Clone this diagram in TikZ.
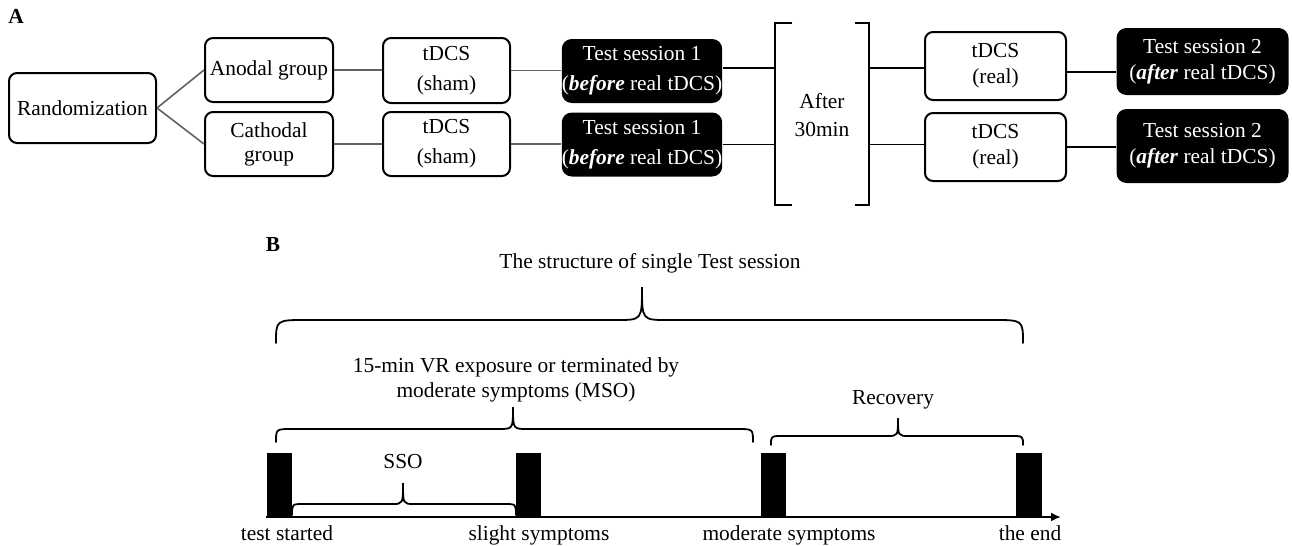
\documentclass[tikz,border=0pt]{standalone}
\usepackage{fontspec}
\setmainfont{Liberation Serif}
\usetikzlibrary{arrows.meta}

% curly brace: x-left, x-right, x-tip, y-ends, y-bar, y-tip, end radius, tip radius
\newcommand\curlybrace[8]{%
  \draw[bracepath] (#1,#4) .. controls (#1,#5) .. (#1+#7,#5) -- (#3-#8,#5)
    .. controls (#3,#5) .. (#3,#6) .. controls (#3,#5) .. (#3+#8,#5)
    -- (#2-#7,#5) .. controls (#2,#5) .. (#2,#4);}

\begin{document}
\begin{tikzpicture}[x=0.5pt,y=-0.5pt,
  txt/.style={font=\fontsize{10.7}{13}\selectfont, inner sep=0pt},
  every node/.style={txt},
  wbox/.style={draw, line width=1pt, rounded corners=4pt, align=center, fill=white},
  bbox/.style={fill=black, text=white, rounded corners=5pt, align=center},
  wide/.style={font=\fontsize{10.7}{15}\selectfont},
  tight/.style={font=\fontsize{10.7}{12}\selectfont},
  gline/.style={draw=black!62, line width=0.8pt},
  kline/.style={draw=black, line width=0.8pt},
  bracketpath/.style={line width=1pt},
  bracepath/.style={line width=0.9pt, line cap=round},
  barbox/.style={fill=black, minimum width=12.5pt, minimum height=32pt},
  label/.style={font=\fontsize{10.7}{13}\selectfont\bfseries},
  axislabel/.style={anchor=base},
]
\useasboundingbox (0,0) rectangle (1292,546);

% ---------------- Panel A: study design ----------------
\node[label] (lblA) at (16,16) {A};

\node[wbox, minimum width=73.5pt, minimum height=35pt] (rand) at (82.5,108) {Randomization};
\node[wbox, minimum width=64pt, minimum height=32pt] (ano) at (269,70) {Anodal group};
\node[wbox, tight, minimum width=64pt, minimum height=32pt] (cat) at (269,144) {Cathodal\\group};

\node[wbox, wide, minimum width=63.5pt, minimum height=32.5pt] (shA) at (446.5,70.5) {tDCS\\(sham)};
\node[wbox, wide, minimum width=63.5pt, minimum height=32pt] (shB) at (446.5,144) {tDCS\\(sham)};

\node[bbox, wide, minimum width=80pt, minimum height=32pt] (tsA) at (642,71) {Test session 1\\(\textbf{\textit{before}} real tDCS)};
\node[bbox, wide, minimum width=80pt, minimum height=32pt] (tsB) at (642,144.5) {Test session 1\\(\textbf{\textit{before}} real tDCS)};

% waiting interval between brackets
\node[font=\fontsize{10.7}{14}\selectfont, align=center] (wait) at (822,115) {After\\30min};
\coordinate (brL) at (775,114);
\coordinate (brR) at (869,114);
\draw[bracketpath] (792,23) -- (775,23) -- (775,205) -- (792,205);
\draw[bracketpath] (855,23) -- (869,23) -- (869,205) -- (855,205);

\node[wbox, minimum width=70.5pt, minimum height=34pt] (reA) at (995.5,66) {tDCS\\(real)};
\node[wbox, minimum width=70.5pt, minimum height=34pt] (reB) at (995.5,147) {tDCS\\(real)};

\node[bbox, minimum width=86pt, minimum height=33.5pt] (t2A) at (1202.5,61.5) {Test session 2\\(\textbf{\textit{after}} real tDCS)};
\node[bbox, minimum width=86pt, minimum height=37pt] (t2B) at (1202.5,146) {Test session 2\\(\textbf{\textit{after}} real tDCS)};

% connectors
\draw[gline] (rand.east) -- (ano.west);
\draw[gline] (rand.east) -- (cat.west);
\draw[gline] (ano.east) -- (ano.east -| shA.west);
\draw[gline] (cat.east) -- (cat.east -| shB.west);
\draw[gline] (shA.east) -- (shA.east -| tsA.west);
\draw[gline] (shB.east) -- (shB.east -| tsB.west);
\draw[kline] ([yshift=1.5pt]tsA.east) -- ([yshift=1.5pt]tsA.east -| brL);
\draw[kline] (tsB.east) -- (tsB.east -| brL);
\draw[kline] ([yshift=1.5pt]brR |- tsA.east) -- ([yshift=1.5pt]tsA.east -| reA.west);
\draw[kline] (brR |- tsB.east) -- (tsB.east -| reB.west);
\draw[kline] ([yshift=-3pt]reA.east) -- ([yshift=-3pt]reA.east -| t2A.west);
\draw[kline] (reB.east) -- (reB.east -| t2B.west);

% ---------------- Panel B: structure of one test session ----------------
\node[label] (lblB) at (273,245) {B};
\node (title) at (650,263) {The structure of single Test session};
\curlybrace{276}{1023}{642}{343}{320}{287}{30}{25}

\node[align=center, font=\fontsize{10.7}{12.5}\selectfont] (vr) at (516,380) {15-min VR exposure or terminated by\\moderate symptoms (MSO)};
\curlybrace{276}{753}{513}{442}{429}{407}{16}{14}

\node (rec) at (893,400) {Recovery};
\curlybrace{771}{1023}{898}{445}{436}{418}{12}{11}

\node (sso) at (403,462) {SSO};
\curlybrace{292}{516}{403}{515}{504}{483}{12}{11}

% time axis with event markers
\coordinate (ax0) at (266,517);
\coordinate (ax1) at (1061,517);
\draw[line width=1pt, -{Latex[length=5pt,width=4.5pt]}] (ax0) -- (ax1);

\node[barbox] (b1) at (279.5,485) {};
\node[barbox] (b2) at (528.5,485) {};
\node[barbox] (b3) at (773,485) {};
\node[barbox, minimum width=13pt] (b4) at (1029,485) {};

\node[axislabel] (l1) at (287,540) {test started};
\node[axislabel] (l2) at (539,540) {slight symptoms};
\node[axislabel] (l3) at (789,540) {moderate symptoms};
\node[axislabel] (l4) at (1030,540) {the end};
\end{tikzpicture}
\end{document}
